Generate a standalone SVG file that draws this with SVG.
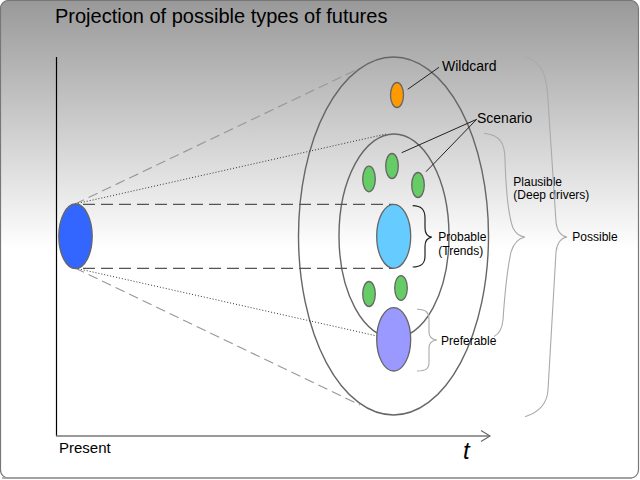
<svg xmlns="http://www.w3.org/2000/svg" width="640" height="480" viewBox="0 0 640 480">
<defs>
<linearGradient id="bg" x1="0" y1="0" x2="0" y2="1">
<stop offset="0" stop-color="#999999"/>
<stop offset="0.52" stop-color="#ffffff"/>
<stop offset="1" stop-color="#ffffff"/>
</linearGradient>
<style>
.t{font-family:"Liberation Sans",Arial,sans-serif;fill:#000}
.ring{fill:none;stroke:#666;stroke-width:1.4}
.dot{stroke:#666;stroke-width:1.3}
.lead{stroke:#222;stroke-width:1;fill:none}
.brace{fill:none;stroke:#aaa;stroke-width:1.1}
</style>
</defs>
<rect x="0.5" y="0.5" width="638" height="477.5" rx="8" fill="url(#bg)" stroke="#777" stroke-width="1.2"/>
<line x1="2" y1="478" x2="632" y2="478" stroke="#999" stroke-width="1.5"/>
<text class="t" x="55" y="23" font-size="20">Projection of possible types of futures</text>

<g id="axes">
<line x1="56.5" y1="57" x2="56.5" y2="436" stroke="#000" stroke-width="1.2"/>
<line x1="56" y1="436" x2="490" y2="436" stroke="#777" stroke-width="1.6"/>
<polyline points="481,430.5 490,436 481,441.5" fill="none" stroke="#666" stroke-width="1.1"/>
<text class="t" x="59" y="453" font-size="15">Present</text>
<text class="t" x="463" y="459" font-size="24" font-style="italic">t</text>
</g>

<g id="possible-ring"><ellipse class="ring" cx="393.5" cy="236" rx="95" ry="179"/></g>
<g id="plausible-ring"><ellipse class="ring" cx="394" cy="236" rx="55" ry="102"/></g>

<g id="connectors">
<line x1="75" y1="204" x2="358" y2="69" stroke="#999" stroke-width="1.2" stroke-dasharray="10,5"/>
<line x1="75" y1="268" x2="360" y2="405" stroke="#999" stroke-width="1.2" stroke-dasharray="10,5"/>
<line x1="75" y1="204" x2="386" y2="134" stroke="#333" stroke-width="1" stroke-dasharray="1,2"/>
<line x1="75" y1="268" x2="377" y2="336" stroke="#333" stroke-width="1" stroke-dasharray="1,2"/>
<line x1="83" y1="204.3" x2="393" y2="204.3" stroke="#555" stroke-width="1.2" stroke-dasharray="12,6"/>
<line x1="83" y1="268.3" x2="393" y2="268.3" stroke="#555" stroke-width="1.2" stroke-dasharray="12,6"/>
<line class="lead" x1="407.7" y1="89.3" x2="439" y2="67.3"/>
<line class="lead" x1="476.7" y1="119.3" x2="401.7" y2="152.7"/>
<line class="lead" x1="476.7" y1="119.3" x2="426" y2="171.7"/>
</g>

<g id="present"><ellipse class="dot" cx="75.5" cy="236.3" rx="16.7" ry="32.3" fill="#3366ff"/></g>
<g id="wildcard"><ellipse class="dot" cx="397" cy="95" rx="6.5" ry="12.5" fill="#ff9900"/>
<text class="t" x="442" y="71" font-size="14">Wildcard</text></g>
<g id="scenarios">
<ellipse class="dot" cx="369" cy="179" rx="6.3" ry="12.8" fill="#66cc66"/>
<ellipse class="dot" cx="392" cy="166" rx="6.3" ry="12.5" fill="#66cc66"/>
<ellipse class="dot" cx="418" cy="185" rx="6.3" ry="12.5" fill="#66cc66"/>
<ellipse class="dot" cx="369" cy="294" rx="6.3" ry="12.5" fill="#66cc66"/>
<ellipse class="dot" cx="401" cy="288" rx="6.3" ry="12.3" fill="#66cc66"/>
<text class="t" x="477" y="123" font-size="14">Scenario</text>
</g>
<g id="probable">
<ellipse class="dot" cx="393.7" cy="236.3" rx="17" ry="32" fill="#66ccff"/>
<path d="M412.7,205.7 C421,206 425,209 425,218 L425,228 C425,234 428,236.5 431.7,237.2 C428,238 425,240 425,246 L425,256 C425,264 421,267 412.7,267" fill="none" stroke="#222" stroke-width="1.2"/>
<text class="t" x="438.3" y="241" font-size="12">Probable</text>
<text class="t" x="438.3" y="255" font-size="12">(Trends)</text>
</g>
<g id="preferable">
<ellipse class="dot" cx="393.7" cy="339.3" rx="17" ry="31.7" fill="#9999ff"/>
<path class="brace" d="M417,309.3 C426,309.5 429,312 429,320 L429,332 C429,337 432,339.5 437,340 C432,340.5 429,343 429,348 L429,362 C429,369 426,371 417,371"/>
<text class="t" x="441" y="344.5" font-size="12">Preferable</text>
</g>
<g id="plausible">
<path class="brace" d="M484,133.3 C500,135 505,143 505,160 C506,190 508,215 513,228 C516,234 520,236.5 525,237 C520,238 514,242 511,252 C506,275 504,305 503,320 C502,330 499,334 494,336.5"/>
<text class="t" x="513.3" y="186" font-size="12">Plausible</text>
<text class="t" x="513.3" y="199" font-size="12">(Deep drivers)</text>
</g>
<g id="possible">
<path class="brace" d="M525,56.7 C542,62 547,75 548,100 L556,222 C557,231 561,236 567,237 C561,238 557,243 556,252 L548,390 C547,405 537,413 525,416.7"/>
<text class="t" x="572.3" y="241" font-size="12">Possible</text>
</g>
</svg>
